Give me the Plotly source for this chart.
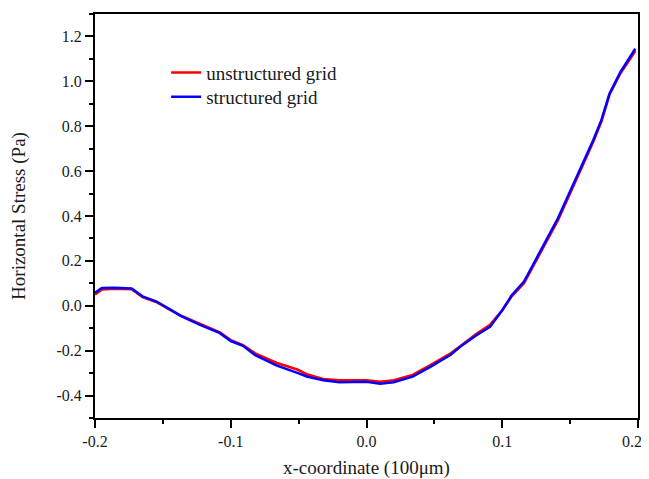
"""Horizontal stress along x: unstructured vs structured grid."""

import plotly.graph_objects as go

FONT = "Liberation Serif, Times New Roman, serif"
TEXT = "#1a1a1a"
RED = "#FF0000"
BLUE = "#0000FF"

# x-coordinate (100 um)
x_coord = [
    -0.2, -0.195, -0.185, -0.173, -0.165, -0.155, -0.145, -0.137, -0.123,
    -0.108, -0.1, -0.091, -0.082, -0.066, -0.051, -0.044, -0.032, -0.02,
    0.0, 0.01, 0.02, 0.034, 0.047, 0.054, 0.062, 0.069, 0.081, 0.091, 0.1,
    0.107, 0.116, 0.122, 0.13, 0.135, 0.141, 0.157, 0.167, 0.173, 0.179,
    0.187, 0.198,
]

# horizontal stress (Pa)
unstructured = [
    0.05, 0.072, 0.076, 0.074, 0.038, 0.017, -0.017, -0.043, -0.08,
    -0.118, -0.153, -0.175, -0.212, -0.255, -0.284, -0.305, -0.326, -0.332,
    -0.332, -0.339, -0.332, -0.308, -0.264, -0.238, -0.212, -0.18, -0.125,
    -0.085, -0.02, 0.042, 0.1, 0.168, 0.258, 0.315, 0.38, 0.595, 0.73,
    0.82, 0.94, 1.035, 1.135,
]
structured = [
    0.058, 0.079, 0.08, 0.077, 0.042, 0.02, -0.015, -0.045, -0.084,
    -0.122, -0.157, -0.178, -0.22, -0.267, -0.299, -0.315, -0.332, -0.341,
    -0.339, -0.347, -0.341, -0.316, -0.272, -0.245, -0.218, -0.183, -0.131,
    -0.094, -0.02, 0.047, 0.108, 0.175, 0.264, 0.323, 0.39, 0.604, 0.738,
    0.827, 0.945, 1.041, 1.145,
]

x_ticks = [-0.2, -0.1, 0.0, 0.1, 0.2]
# trailing nbsp keeps the last label inside the visible page
x_labels = ["-0.2", "-0.1", "0.0", "0.1", "0.2\u00a0\u00a0\u00a0"]
y_ticks = [-0.4, -0.2, 0.0, 0.2, 0.4, 0.6, 0.8, 1.0, 1.2]
y_labels = ["-0.4", "-0.2", "0.0", "0.2", "0.4", "0.6", "0.8", "1.0", "1.2"]

fig = go.Figure()
fig.add_trace(
    go.Scatter(
        x=x_coord,
        y=unstructured,
        mode="lines",
        name="unstructured grid",
        line=dict(color=RED, width=2.5),
        legend="legend",
    )
)
fig.add_trace(
    go.Scatter(
        x=x_coord,
        y=structured,
        mode="lines",
        name="structured grid",
        line=dict(color=BLUE, width=2.5),
        legend="legend2",
    )
)

axis_common = dict(
    automargin=False,
    showline=True,
    linecolor="black",
    linewidth=2,
    mirror=True,
    showgrid=False,
    zeroline=False,
    ticks="outside",
    ticklen=8,
    tickwidth=2,
    tickcolor="black",
    tickfont=dict(family=FONT, size=16, color=TEXT),
)

fig.update_xaxes(
    range=[-0.2, 0.2],
    tickvals=x_ticks,
    ticktext=x_labels,
    ticklabeloverflow="allow",
    minor=dict(ticks="outside", ticklen=4, tickwidth=2, tickcolor="black", dtick=0.05, tick0=0),
    title=dict(text="x-coordinate (100μm)", font=dict(family=FONT, size=19, color=TEXT), standoff=11),
    **axis_common,
)
fig.update_yaxes(
    range=[-0.5, 1.3],
    tickvals=y_ticks,
    ticktext=y_labels,
    minor=dict(ticks="outside", ticklen=4, tickwidth=2, tickcolor="black", dtick=0.1, tick0=0),
    title=dict(text="Horizontal Stress (Pa)", font=dict(family=FONT, size=19, color=TEXT), standoff=30),
    **axis_common,
)

legend_common = dict(
    xanchor="left",
    yanchor="middle",
    bgcolor="rgba(0,0,0,0)",
    font=dict(family=FONT, size=19, color=TEXT),
)

# the page body keeps its default 8px margin, so the figure is 8px smaller
fig.update_layout(
    width=641,
    height=471,
    paper_bgcolor="white",
    plot_bgcolor="white",
    margin=dict(l=87, r=11, t=6, b=61, autoexpand=False),
    font=dict(family=FONT, color=TEXT),
    showlegend=True,
    legend=dict(x=0.131, y=0.855, **legend_common),
    legend2=dict(x=0.131, y=0.795, **legend_common),
)

fig.write_html("out.html")
